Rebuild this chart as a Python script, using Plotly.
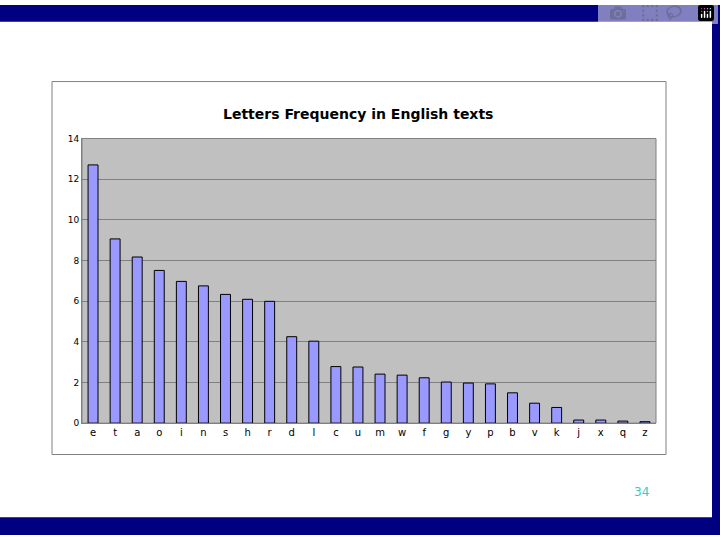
import plotly.graph_objects as go

letters = list("etaoinshrdlcumwfgypbvkjxqz")
freq = [12.70, 9.06, 8.17, 7.51, 6.97, 6.75, 6.33, 6.09, 5.99, 4.25, 4.03, 2.78, 2.76,
        2.41, 2.36, 2.23, 2.02, 1.97, 1.93, 1.49, 0.98, 0.77, 0.15, 0.15, 0.10, 0.07]

W, H = 720, 540
def px(x): return x / W
def py(y): return 1 - y / H

fig = go.Figure(go.Bar(x=letters, y=freq, width=0.45,
                       marker=dict(color="#9999FF", line=dict(color="black", width=1))))

shapes = [
    dict(type="rect", xref="paper", yref="paper", x0=0, x1=1, y0=py(17), y1=1,
         fillcolor="#000080", line_width=0, layer="below"),
    dict(type="rect", xref="paper", yref="paper", x0=0, x1=1, y0=0, y1=py(522),
         fillcolor="#000080", line_width=0, layer="below"),
    dict(type="rect", xref="paper", yref="paper", x0=px(712), x1=1, y0=0, y1=1,
         fillcolor="#000080", line_width=0, layer="below"),
    dict(type="rect", xref="paper", yref="paper", x0=px(52), x1=px(666), y0=py(458), y1=py(78),
         fillcolor="white", line=dict(color="#808080", width=1), layer="below"),
    dict(type="rect", xref="paper", yref="paper", x0=px(82), x1=px(656), y0=py(426), y1=py(136),
         fillcolor="#C0C0C0", line=dict(color="#808080", width=1), layer="below"),
]

fig.update_layout(
    width=W, height=H, margin=dict(l=0, r=0, t=0, b=0),
    paper_bgcolor="white", plot_bgcolor="#C0C0C0", showlegend=False,
    shapes=shapes, bargap=0.55,
    font=dict(family="DejaVu Sans", color="black"),
    xaxis=dict(domain=[px(82), px(656)], showline=True, linecolor="#808080",
               tickfont=dict(size=10), ticks="", fixedrange=True),
    yaxis=dict(domain=[py(426), py(136)], range=[0, 14], dtick=2,
               gridcolor="#808080", gridwidth=1, tickfont=dict(size=9),
               showline=True, linecolor="#808080", zeroline=False, fixedrange=True),
    annotations=[
        dict(text="<b>Letters Frequency in English texts</b>", xref="paper", yref="paper",
             x=px(358), y=py(101), showarrow=False, font=dict(size=14)),
        dict(text="34", xref="paper", yref="paper", x=px(651), y=py(505),
             showarrow=False, font=dict(size=12, color="#33CCCC")),
    ],
)
fig.write_html("out.html", post_script="document.body.style.margin='0';")
